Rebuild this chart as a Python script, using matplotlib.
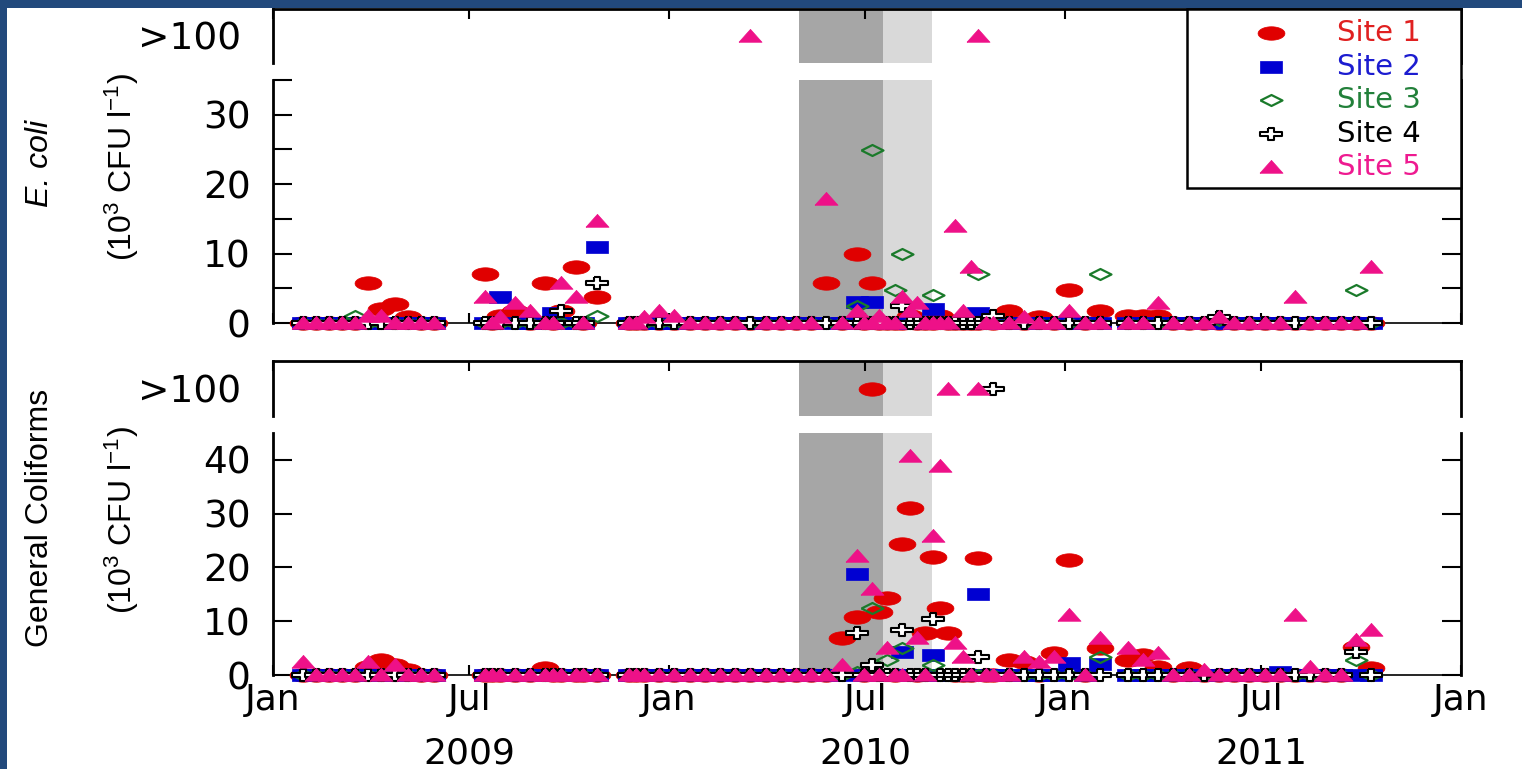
import numpy as np
import matplotlib
matplotlib.use('Agg')
import matplotlib.pyplot as plt
from matplotlib.patches import Rectangle
from matplotlib.lines import Line2D

W, H = 1522, 769
OVER = 101  # stands for samples reported as ">100", drawn in the upper strip

# sampling dates (same for every site)
dates = [
    # spring 2009
    '2009-01-29', '2009-02-10', '2009-02-22', '2009-03-06', '2009-03-18', '2009-03-30',
    '2009-04-11', '2009-04-23', '2009-05-05', '2009-05-17', '2009-05-29',
    # summer / autumn 2009
    '2009-07-15', '2009-07-22', '2009-07-29', '2009-08-12', '2009-08-26', '2009-09-09',
    '2009-09-16', '2009-09-23', '2009-10-07', '2009-10-14', '2009-10-27',
    # nov 2009 - feb 2011
    '2009-11-25', '2009-12-02', '2009-12-09', '2009-12-23', '2010-01-06', '2010-01-20',
    '2010-02-03', '2010-02-17', '2010-03-03', '2010-03-17', '2010-03-31', '2010-04-14',
    '2010-04-28', '2010-05-12', '2010-05-26', '2010-06-09', '2010-06-23', '2010-06-30',
    '2010-07-07', '2010-07-14', '2010-07-21', '2010-07-28', '2010-08-04', '2010-08-11',
    '2010-08-18', '2010-08-25', '2010-09-01', '2010-09-08', '2010-09-15', '2010-09-22',
    '2010-09-29', '2010-10-06', '2010-10-13', '2010-10-20', '2010-10-27', '2010-11-10',
    '2010-11-24', '2010-12-08', '2010-12-22', '2011-01-05', '2011-01-19', '2011-02-02',
    # 2011
    '2011-02-28', '2011-03-14', '2011-03-28', '2011-04-11', '2011-04-25', '2011-05-09',
    '2011-05-23', '2011-06-06', '2011-06-20', '2011-07-04', '2011-07-18', '2011-08-01',
    '2011-08-15', '2011-08-29', '2011-09-12', '2011-09-26', '2011-10-10',
]

# E. coli (10^3 CFU/l)
ecoli_site1 = [0, 0, 0, 0, 0, 5.8, 2.0, 2.8, 0.8, 0, 0,
               7.0, 0, 1.0, 1.8, 0, 5.8, 0, 1.8, 8.0, 0, 3.8,
               0, 0, 0, 0, 0, 0, 0, 0, 0, 0, 0, 0, 0, 0, 5.8, 0, 9.9, 0, 5.8, 0,
               0, 0, 0, 1.0, 0, 0, 0, 1.0, 0, 0, 0, 0, 0, 0.8, 0, 1.8, 0, 0.9, 0, 4.8, 0, 1.8,
               1.0, 1.0, 1.0, 0, 0, 0, 0, 0, 0, 0, 0, 0, 0, 0, 0, 0, 0]
ecoli_site2 = [0, 0, 0, 0, 0, 0, 0, 0, 0, 0, 0,
               0, 0, 3.7, 0, 0, 0, 1.5, 0, 0, 0, 10.9,
               0, 0, 0, 0, 0, 0, 0, 0, 0, 0, 0, 0, 0, 0, 0, 0, 3.0, 0, 3.0, 0,
               0, 0, 0, 0, 0, 0, 2.0, 0, 0, 0, 0, 0, 1.4, 0, 0, 0, 0, 0, 0, 0, 0, 0,
               0, 0, 0, 0, 0, 0, 0, 0, 0, 0, 0, 0, 0, 0, 0, 0, 0]
ecoli_site3 = [0, 0, 0, 0, 1.0, 0, 0, 0, 0, 0, 0,
               0, 0, 0, 0, 0, 0, 0, 0, 0, 0, 1.0,
               0, 0, 0, 0, 0, 0, 0, 0, 0, 0, 0, 0, 0, 0, 0, 0, 2.5, 0, 24.9, 0,
               0, 4.8, 10.0, 0, 0, 0, 4.0, 0, 0, 0, 0, 0, 7.0, 0, 0, 0, 0, 0, 0, 0, 0, 7.1,
               0, 0, 0, 0, 0, 0, 0.5, 0, 0, 0, 0, 0, 0, 0, 0, 4.8, 0]
ecoli_site4 = [0, 0, 0, 0, 0, 0, 0, 0, 0, 0, 0,
               0, 0, 0, 0, 0, 0, 0, 1.8, 0, 0, 5.8,
               0, 0, 0, 0, 0, 0, 0, 0, 0, 0, 0, 0, 0, 0, 0, 0, 0, 0, 0, 0,
               0, 0, 2.5, 0, 0, 0, 0, 0, 0, 0, 0, 0, 0, 0, 1.0, 0, 0, 0, 0, 0, 0, 0,
               0, 0, 0, 0, 0, 0, 0.8, 0, 0, 0, 0, 0, 0, 0, 0, 0, 0]
ecoli_site5 = [0, 0, 0, 0, 0, 1.0, 1.0, 0, 0, 0, 0,
               3.8, 0, 0.9, 2.9, 1.8, 0, 0, 5.8, 3.8, 0, 14.7,
               0, 0, 0.9, 1.8, 1.0, 0, 0, 0, 0, OVER, 0, 0, 0, 0, 17.8, 0, 1.8, 0, 0, 1.0,
               0, 0, 3.8, 1.8, 2.9, 0, 0, 0, 0, 13.9, 1.8, 8.0, OVER, 0, 0, 0, 0.8, 0, 0, 1.8, 0, 0,
               0, 0, 2.9, 0, 0, 0, 0.8, 0, 0, 0, 0, 3.8, 0, 0, 0, 0, 8.0]

# general coliforms (10^3 CFU/l)
coli_site1 = [0, 0, 0, 0, 0, 1.5, 2.8, 1.8, 1.0, 0, 0,
              0, 0, 0, 0, 0, 1.3, 0, 0, 0, 0, 0,
              0, 0, 0, 0, 0, 0, 0, 0, 0, 0, 0, 0, 0, 0, 0, 6.9, 10.7, 0, OVER, 11.7,
              14.3, 0, 24.4, 31.1, 0, 7.8, 22.0, 12.4, 7.8, 0, 0, 0, 21.7, 0, 0, 2.8, 2.4, 0, 4.0, 21.3, 0, 5.0,
              2.8, 3.7, 1.5, 0, 1.3, 0, 0, 0, 0, 0, 0, 0, 0, 0, 0, 5.2, 1.3]
coli_site2 = [0, 0, 0, 0, 0, 0, 0, 0, 0, 0, 0,
              0, 0, 0, 0, 0, 0, 0, 0, 0, 0, 0,
              0, 0, 0, 0, 0, 0, 0, 0, 0, 0, 0, 0, 0, 0, 0, 0, 18.7, 0, 0, 0,
              0, 0, 4.3, 0, 0, 0, 3.7, 0, 0, 0, 0, 0, 15.0, 0, 0, 0, 0, 0, 0, 2.2, 0, 2.0,
              0, 0, 0, 0, 0, 0, 0, 0, 0, 0, 0.5, 0, 0, 0, 0, 0, 0]
coli_site3 = [0, 0, 0, 0, 0, 0, 0, 0, 0, 0, 0,
              0, 0, 0, 0, 0, 0, 0, 0, 0, 0, 0,
              0, 0, 0, 0, 0, 0, 0, 0, 0, 0, 0, 0, 0, 0, 0, 0, 0.6, 0, 12.4, 0,
              2.8, 0, 5.0, 0, 0, 0, 1.9, 0, 0, 0, 0, 0, 0, 0, 0, 0, 0, 0, 0, 0, 0, 3.4,
              0, 0, 0, 0, 0, 0, 0, 0, 0, 0, 0, 0, 0, 0, 0, 2.8, 0]
coli_site4 = [0, 0, 0, 0, 0, 0, 0, 0, 0, 0, 0,
              0, 0, 0, 0, 0, 0, 0, 0, 0, 0, 0,
              0, 0, 0, 0, 0, 0, 0, 0, 0, 0, 0, 0, 0, 0, 0, 0, 7.8, 0, 1.9, 0,
              0, 0, 8.3, 0, 0, 0, 10.4, 0, 0, 0, 0, 0, 3.3, 0, OVER, 0, 0, 0, 0, 0, 0, 0,
              0, 0, 0, 0, 0, 0, 0, 0, 0, 0, 0, 0, 0, 0, 0, 4.3, 0]
coli_site5 = [2.4, 0, 0, 0, 0, 2.4, 0, 1.8, 0, 0, 0,
              0, 0, 0, 0, 0, 0, 0, 0, 0, 0, 0,
              0, 0, 0, 0, 0, 0, 0, 0, 0, 0, 0, 0, 0, 0, 0, 1.9, 22.2, 0, 15.9, 0,
              5.0, 0, 0, 40.7, 6.9, 0, 25.9, 38.9, OVER, 5.9, 3.3, 0, OVER, 0, 0, 0, 3.4, 2.4, 3.4, 11.1, 0, 6.9,
              5.0, 2.8, 4.0, 0, 0, 1.0, 0, 0, 0, 0, 0, 11.1, 1.5, 0, 0, 6.5, 8.3]

sites = ['Site 1', 'Site 2', 'Site 3', 'Site 4', 'Site 5']
ecoli = [ecoli_site1, ecoli_site2, ecoli_site3, ecoli_site4, ecoli_site5]
coli = [coli_site1, coli_site2, coli_site3, coli_site4, coli_site5]

# shaded periods
dark_span = ('2010-05-01', '2010-07-17')
light_span = ('2010-07-17', '2010-08-31')

tick_dates = ['2009-01-01', '2009-07-01', '2010-01-01', '2010-07-01',
              '2011-01-01', '2011-07-01', '2012-01-01']
tick_labels = ['Jan', 'Jul', 'Jan', 'Jul', 'Jan', 'Jul', 'Jan']
years = ['2009', '2010', '2011']
year_pos = ['2009-07-01', '2010-07-01', '2011-07-01']

plt.rcParams['font.family'] = ['DejaVu Sans']
plt.rcParams['mathtext.fontset'] = 'custom'
plt.rcParams['mathtext.rm'] = 'Liberation Sans'
plt.rcParams['mathtext.it'] = 'Liberation Sans:italic'

# wide marker shapes (the original figure is stretched horizontally)
t = np.linspace(0, 2 * np.pi, 41)
ellipse = np.column_stack([np.cos(t), 0.5 * np.sin(t)])
rect = np.array([[-1, -0.52], [1, -0.52], [1, 0.52], [-1, 0.52], [-1, -0.52]])
diamond = np.array([[-1, 0], [0, 0.5], [1, 0], [0, -0.5], [-1, 0]])
a, b = 0.3, 0.19
cross = np.array([[-a, 0.55], [a, 0.55], [a, b], [1, b], [1, -b], [a, -b], [a, -0.55],
                  [-a, -0.55], [-a, -b], [-1, -b], [-1, b], [-a, b], [-a, 0.55]])
tri = np.array([[-1, -0.5], [1, -0.5], [0, 0.62], [-1, -0.5]])

styles = [
    dict(marker=ellipse, ms=19.4, mfc='#e00000', mec='#e00000', mew=0.5),
    dict(marker=rect, ms=16.5, mfc='#0000d2', mec='#0000d2', mew=0.5),
    dict(marker=diamond, ms=15.8, mfc='none', mec='#1a7a2a', mew=1.6),
    dict(marker=cross, ms=15.8, mfc='white', mec='black', mew=1.5),
    dict(marker=tri, ms=16.6, mfc='#ee1188', mec='#ee1188', mew=0.5),
]
text_colors = ['#e02020', '#1c1cd0', '#22803a', 'black', '#ee1a90']

x = np.array(dates, dtype='datetime64[D]')
xmin, xmax = np.datetime64('2009-01-01'), np.datetime64('2012-01-01')
ticks = np.array(tick_dates, dtype='datetime64[D]')

fig = plt.figure(figsize=(W / 100, H / 100), dpi=100, facecolor='#22497c')
fig.add_artist(Rectangle((7 / W, 0), 1, 1 - 8 / H, transform=fig.transFigure,
                         facecolor='white', edgecolor='none', zorder=-10))


def box(x0, y0, x1, y1):
    return [x0 / W, 1 - y1 / H, (x1 - x0) / W, (y1 - y0) / H]


def panel(hi_box, lo_box, data, ymax, major, minor):
    ax_hi = fig.add_axes(box(*hi_box))
    ax = fig.add_axes(box(*lo_box))
    for axx in (ax_hi, ax):
        axx.set_xlim(xmin, xmax)
        axx.axvspan(np.datetime64(dark_span[0]), np.datetime64(dark_span[1]),
                    color='#a6a6a6', lw=0, zorder=0)
        axx.axvspan(np.datetime64(light_span[0]), np.datetime64(light_span[1]),
                    color='#d9d9d9', lw=0, zorder=0)
        axx.set_xticks(ticks)
        for s in ('left', 'right', 'top', 'bottom'):
            axx.spines[s].set_linewidth(2.0)
    for i, vals in enumerate(data):
        v = np.array(vals, dtype=float)
        lo = v < OVER
        ax.plot(x[lo], v[lo], ls='none', clip_on=False, zorder=3 + i, **styles[i])
        hi = ~lo
        if hi.any():
            ax_hi.plot(x[hi], v[hi], ls='none', clip_on=False, zorder=3 + i, **styles[i])

    # upper strip for ">100"
    ax_hi.set_ylim(OVER - 1, OVER + 1)
    ax_hi.set_yticks([OVER])
    ax_hi.set_yticklabels(['>100'])
    ax_hi.spines['bottom'].set_visible(False)
    ax_hi.tick_params(axis='y', length=0, labelsize=27, pad=23)
    ax_hi.tick_params(axis='x', direction='in', length=7, width=1.5,
                      top=True, bottom=False, labelbottom=False)

    ax.set_ylim(0, ymax)
    ax.set_yticks(major)
    ax.set_yticks(minor, minor=True)
    ax.spines['top'].set_visible(False)
    ax.spines['bottom'].set_linewidth(1.2)
    ax.tick_params(axis='y', which='both', direction='in', length=14, width=1.5,
                   left=True, right=True, labelsize=27, pad=16)
    ax.tick_params(axis='x', direction='in', length=7, width=1.5,
                   labelbottom=False)
    return ax_hi, ax


ax_e_hi, ax_e = panel((273, 9, 1461, 63), (273, 80, 1461, 323), ecoli,
                      35, [0, 10, 20, 30], [5, 15, 25, 35])
ax_c_hi, ax_c = panel((273, 361, 1461, 416), (273, 433, 1461, 675), coli,
                      45, [0, 10, 20, 30, 40], [])

ax_c.tick_params(axis='x', labelbottom=True, labelsize=26, pad=6)
ax_c.set_xticklabels(tick_labels)
for yr, pos in zip(years, year_pos):
    ax_c.text(np.datetime64(pos), -0.325, yr, transform=ax_c.get_xaxis_transform(),
              ha='center', va='center', fontsize=26)

# y labels, centred on each panel pair
lab = dict(rotation=90, ha='center', va='center', family='Liberation Sans', fontsize=23)
fig.text(40 / W, 1 - 163 / H, 'E. coli', style='italic', **lab)
fig.text(122 / W, 1 - 167 / H, r'(10$^3$ CFU l$^{-1}$)', **lab)
fig.text(40 / W, 1 - 518 / H, 'General Coliforms', **lab)
fig.text(122 / W, 1 - 520 / H, r'(10$^3$ CFU l$^{-1}$)', **lab)

# legend box
fig.add_artist(Rectangle((1187 / W, 1 - 188 / H), (1461 - 1187) / W, (188 - 9) / H,
                         transform=fig.transFigure, facecolor='white',
                         edgecolor='black', lw=1.8, zorder=5))
row_y = [33, 67, 100, 134, 167]
for i, name in enumerate(sites):
    fig.add_artist(Line2D([1271 / W], [1 - row_y[i] / H], transform=fig.transFigure,
                          ls='none', zorder=6, **styles[i]))
    fig.text(1337 / W, 1 - row_y[i] / H, name, color=text_colors[i], fontsize=21,
             ha='left', va='center', zorder=6)

fig.savefig('out.png', dpi=100, facecolor=fig.get_facecolor())
